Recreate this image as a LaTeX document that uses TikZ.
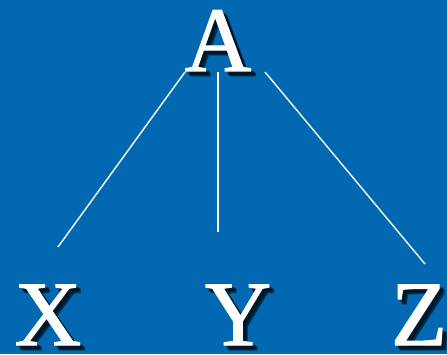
\documentclass[tikz,border=0pt]{standalone}
\usepackage{fontspec}
\setmainfont{Liberation Serif}
\newfontface\lettface[FakeBold=1.2]{Liberation Serif}
\definecolor{bgblue}{HTML}{0268B1}
\tikzset{
  letter/.style={text=white, font=\lettface\fontsize{92}{92}\selectfont, inner sep=0pt, anchor=base},
  shade1/.style={text=black, font=\lettface\fontsize{92}{92}\selectfont, inner sep=0pt, anchor=base, opacity=0.35},
  link/.style={draw=white, line width=1.4pt}
}
\newcommand{\shadowletter}[3]{%
  \foreach \dx/\dy in {3/-3,5/-5,4/-4}{
    \node[shade1] at ([xshift=\dx pt,yshift=\dy pt]#2) {#3};
  }
  \node[letter] (#1) at (#2) {#3};
}
\begin{document}
\begin{tikzpicture}[x=1pt,y=1pt]
\fill[bgblue] (0,0) rectangle (447,354);
\useasboundingbox (0,0) rectangle (447,354);
\coordinate (pA) at (218,283);
\coordinate (pX) at (48,9);
\coordinate (pY) at (238,9);
\coordinate (pZ) at (419,9);
\shadowletter{A}{pA}{A}
\shadowletter{X}{pX}{X}
\shadowletter{Y}{pY}{Y}
\shadowletter{Z}{pZ}{Z}
\coordinate (a1) at (185,282);
\coordinate (a2) at (218,282);
\coordinate (a3) at (265,282);
\coordinate (x1) at (58,107);
\coordinate (y1) at (218,122);
\coordinate (z1) at (425,90);
\draw[link] (a1) -- (x1);
\draw[link] (a2) -- (y1);
\draw[link] (a3) -- (z1);
\end{tikzpicture}
\end{document}
